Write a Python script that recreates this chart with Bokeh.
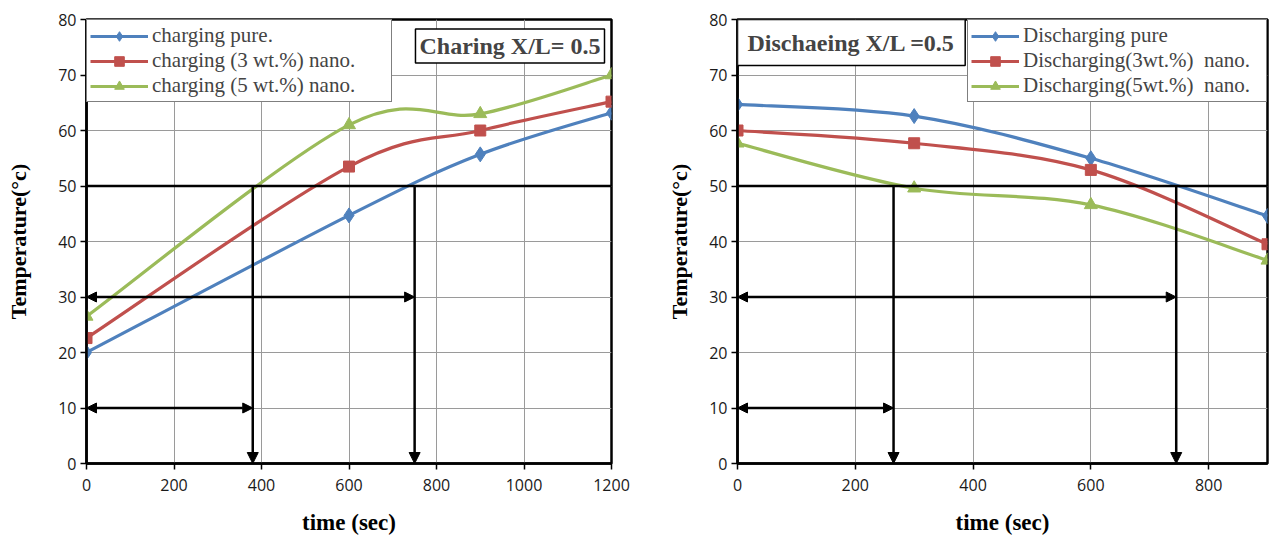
from bokeh.plotting import figure
from bokeh.layouts import row
from bokeh.models import (Range1d, Span, Arrow, NormalHead, Label, Legend,
                          LegendItem, ColumnDataSource, SingleIntervalTicker)
from bokeh.embed import file_html
from bokeh.resources import INLINE

# ---------------- data ----------------
charge_time = [0, 600, 900, 1200]
charge_pure = [20, 44.7, 55.7, 63.2]
charge_3 = [22.6, 53.5, 60, 65.2]
charge_5 = [26.5, 61, 63, 70]
charge_labels = ["charging pure.", "charging (3 wt.%) nano.", "charging (5 wt.%) nano."]
charge_title = "Charing X/L= 0.5"
charge_times_to_50 = [380, 750]

discharge_time = [0, 300, 600, 900]
discharge_pure = [64.7, 62.6, 55, 44.6]
discharge_3 = [60, 57.7, 52.9, 39.5]
discharge_5 = [57.7, 49.6, 46.6, 36.6]
discharge_labels = ["Discharging pure", "Discharging(3wt.%)  nano.", "Discharging(5wt.%)  nano."]
discharge_title = "Dischaeing X/L =0.5"
discharge_times_to_50 = [265, 745]

target_temp = 50
arrow_levels = [10, 30]

colors = ["#4F81BD", "#C0504D", "#9BBB59"]
markers = ["diamond", "square", "triangle"]
marker_sizes = [15, 11, 13]

SERIF = "Liberation Serif"
SANS = "Open Sans"


def bezier_source(xs, ys):
    n = len(xs)
    d = dict(x0=[], y0=[], x1=[], y1=[], cx0=[], cy0=[], cx1=[], cy1=[])
    for i in range(n - 1):
        ip = i - 1 if i > 0 else i
        inn = i + 2 if i + 2 < n else i + 1
        d["x0"].append(xs[i]); d["y0"].append(ys[i])
        d["x1"].append(xs[i + 1]); d["y1"].append(ys[i + 1])
        d["cx0"].append(xs[i] + (xs[i + 1] - xs[ip]) / 6.0)
        d["cy0"].append(ys[i] + (ys[i + 1] - ys[ip]) / 6.0)
        d["cx1"].append(xs[i + 1] - (xs[inn] - xs[i]) / 6.0)
        d["cy1"].append(ys[i + 1] - (ys[inn] - ys[i]) / 6.0)
    return ColumnDataSource(d)


def make_fig(width, height, xmax, borders, ylabel_standoff, xlabel_standoff):
    left, right, top, bottom = borders
    p = figure(width=width, height=height, output_backend="svg", toolbar_location=None,
               x_range=Range1d(0, xmax), y_range=Range1d(0, 80),
               min_border_left=left, min_border_right=right,
               min_border_top=top, min_border_bottom=bottom)
    p.xaxis.ticker = SingleIntervalTicker(interval=200, num_minor_ticks=0)
    p.yaxis.ticker = SingleIntervalTicker(interval=10, num_minor_ticks=0)
    for ax in (p.xaxis, p.yaxis):
        ax.axis_line_width = 2.5
        ax.axis_line_color = "black"
        ax.major_tick_line_color = "black"
        ax.major_tick_line_width = 1.5
        ax.major_tick_in = 0
        ax.major_tick_out = 6
        ax.minor_tick_line_color = None
        ax.major_label_text_font = SANS
        ax.major_label_text_font_size = "16px"
        ax.major_label_text_color = "#1a1a1a"
        ax.axis_label_text_font = SERIF
        ax.axis_label_text_font_style = "bold"
        ax.axis_label_text_color = "black"
    p.xaxis.major_label_standoff = 9
    p.yaxis.major_label_standoff = 4
    p.xaxis.axis_label = "time (sec)"
    p.xaxis.axis_label_text_font_size = "23px"
    p.xaxis.axis_label_standoff = xlabel_standoff
    p.yaxis.axis_label = "Temperature(°c)"
    p.yaxis.axis_label_text_font_size = "22px"
    p.yaxis.axis_label_standoff = ylabel_standoff
    p.grid.grid_line_color = "#9a9a9a"
    p.grid.grid_line_width = 1
    p.outline_line_color = "black"
    p.outline_line_width = 2.5
    p.outline_line_alpha = 1
    p.background_fill_color = "white"
    p.border_fill_color = "white"
    return p


def add_series(p, xs, series, labels, loc, glyph_w, label_w):
    items = []
    for ys, c, m, s, lab in zip(series, colors, markers, marker_sizes, labels):
        src = bezier_source(xs, ys)
        r1 = p.bezier(x0="x0", y0="y0", x1="x1", y1="y1", cx0="cx0", cy0="cy0",
                      cx1="cx1", cy1="cy1", source=src, line_color=c, line_width=3.2)
        r2 = p.scatter(xs, ys, marker=m, size=s, fill_color=c, line_color=c)
        items.append(LegendItem(label=lab, renderers=[r1, r2]))
    leg = Legend(items=items, location=loc, margin=0, padding=3, spacing=0,
                 glyph_width=glyph_w, glyph_height=24, label_standoff=4,
                 label_width=label_w,
                 label_text_font=SERIF, label_text_font_size="21px",
                 border_line_color="black", border_line_width=1.5,
                 background_fill_color="white", background_fill_alpha=1)
    p.add_layout(leg)


def add_guides(p, times):
    p.add_layout(Span(location=target_temp, dimension="width", line_color="black",
                      line_width=2.5))
    for t in times:
        p.add_layout(Arrow(end=NormalHead(size=11, fill_color="black", line_color="black"),
                           x_start=t, y_start=target_temp, x_end=t, y_end=0,
                           line_color="black", line_width=2.5))
    for lvl, t in zip(arrow_levels, sorted(times)):
        p.add_layout(Arrow(start=NormalHead(size=10, fill_color="black", line_color="black"),
                           end=NormalHead(size=10, fill_color="black", line_color="black"),
                           x_start=0, y_start=lvl, x_end=t, y_end=lvl,
                           line_color="black", line_width=2.5))


# ---------------- left: charging ----------------
p1 = make_fig(640, 540, 1200, (86, 29, 19, 77), 24, 16)
add_guides(p1, charge_times_to_50)
add_series(p1, charge_time, [charge_pure, charge_3, charge_5], charge_labels,
           "top_left", 58, 236)
p1.add_layout(Label(x=1184, y=78.3, text=charge_title, text_align="right",
                    text_baseline="top", text_font=SERIF, text_font_style="bold",
                    text_font_size="24px", padding=4,
                    border_line_color="black", border_line_width=1.5,
                    background_fill_color="white", background_fill_alpha=1))

# ---------------- right: discharging ----------------
p2 = make_fig(630, 540, 900, (97, 3, 19, 77), 14, 16)
add_guides(p2, discharge_times_to_50)
add_series(p2, discharge_time, [discharge_pure, discharge_3, discharge_5],
           discharge_labels, "top_right", 48, 240)
p2.add_layout(Label(x=0, y=80, text=discharge_title, text_align="left",
                    text_baseline="top", text_font=SERIF, text_font_style="bold",
                    text_font_size="24px", padding=10,
                    border_line_color="black", border_line_width=1.5,
                    background_fill_color="white", background_fill_alpha=1))

layout = row(p1, p2)
open("out.html", "w").write(file_html(layout, INLINE))
